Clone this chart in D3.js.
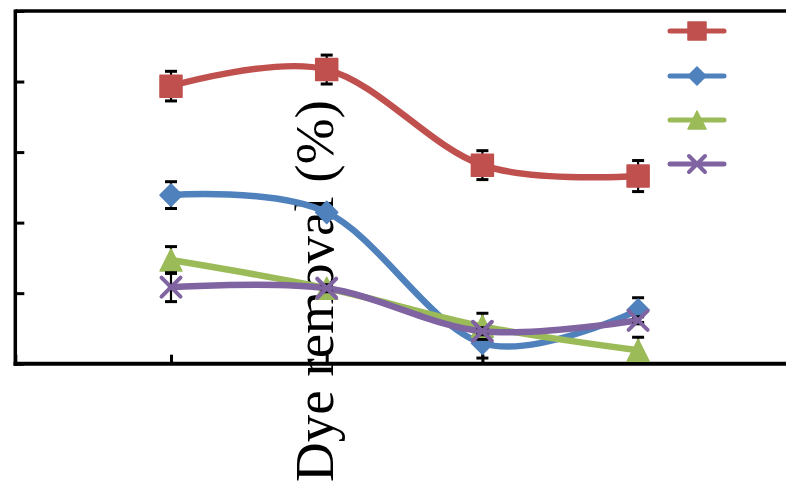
<!DOCTYPE html>
<html>
<head>
<meta charset="utf-8">
<script src="https://cdn.jsdelivr.net/npm/d3@7/dist/d3.min.js"></script>
<style>
  html, body { margin: 0; padding: 0; background: #fff; }
  svg { display: block; }
</style>
</head>
<body>
<svg id="chart" width="786" height="482"></svg>
<script>
// Sampling points along the x axis
const xValues = [1, 2, 3, 4];
const xTicks = [0, 1, 2, 3, 4, 5];
const yTicks = [0, 20, 40, 60, 80, 100];

// Dye removal (%) per series, with error (+/-)
const squareValues   = [78.7, 83.4, 56.3, 53.2];
const squareErrors   = [4.2, 4.1, 4.1, 4.4];
const diamondValues  = [47.8, 42.9, 5.8, 15.2];
const diamondErrors  = [3.8, 1.0, 4.2, 3.5];
const triangleValues = [29.4, 21.4, 10.6, 3.8];
const triangleErrors = [3.8, 1.0, 3.7, 3.7];
const crossValues    = [21.7, 21.4, 9.2, 12.3];
const crossErrors    = [4.1, 1.0, 1.0, 1.0];

const axisTitle = "Dye removal (%)";

const series = [
  { marker: "square",   color: "#C0504D", values: squareValues,   errors: squareErrors },
  { marker: "diamond",  color: "#4F81BD", values: diamondValues,  errors: diamondErrors },
  { marker: "triangle", color: "#9BBB59", values: triangleValues, errors: triangleErrors },
  { marker: "cross",    color: "#8064A2", values: crossValues,    errors: crossErrors }
];

const svg = d3.select("#chart");

const x = d3.scaleLinear().domain([0, 5]).range([15.3, 793.8]);
const y = d3.scaleLinear().domain([0, 100]).range([363.7, 11]);

// Rotated axis title, sitting behind the series
svg.append("text")
  .attr("transform", `translate(333,482) rotate(-90)`)
  .attr("text-anchor", "start")
  .attr("font-family", "'Liberation Serif', 'Times New Roman', serif")
  .attr("font-size", 55)
  .attr("fill", "#000")
  .text(axisTitle);

// Plot frame: top border
svg.append("line")
  .attr("x1", x(0)).attr("x2", x(5))
  .attr("y1", y(100)).attr("y2", y(100))
  .attr("stroke", "#000").attr("stroke-width", 3.5);

// Left axis with inward ticks
const yAxis = d3.axisLeft(y).tickValues(yTicks).tickSize(-9).tickFormat("");
const gy = svg.append("g").attr("transform", `translate(${x(0)},0)`).call(yAxis);
gy.select(".domain").attr("stroke", "#000").attr("stroke-width", 3.5)
  .attr("d", `M0,${y(0) + 2}V${y(100) - 1.5}`);
gy.selectAll(".tick line").attr("stroke", "#000").attr("stroke-width", 3);

// Bottom axis with inward ticks
const xAxis = d3.axisBottom(x).tickValues(xTicks).tickSize(-9).tickFormat("");
const gx = svg.append("g").attr("transform", `translate(0,${y(0)})`).call(xAxis);
gx.select(".domain").attr("stroke", "#000").attr("stroke-width", 4)
  .attr("d", `M${x(0) - 1.75},0H${x(5)}`);
gx.selectAll(".tick line").attr("stroke", "#000").attr("stroke-width", 3);

// Marker shapes
function markerPath(type, s) {
  const p = d3.path();
  const h = s / 2;
  if (type === "square") {
    p.rect(-h, -h, s, s);
  } else if (type === "diamond") {
    p.moveTo(0, -h); p.lineTo(h, 0); p.lineTo(0, h); p.lineTo(-h, 0); p.closePath();
  } else if (type === "triangle") {
    p.moveTo(0, -h); p.lineTo(h, h); p.lineTo(-h, h); p.closePath();
  } else {
    p.moveTo(-h, -h); p.lineTo(h, h); p.moveTo(h, -h); p.lineTo(-h, h);
  }
  return p.toString();
}

function drawMarker(g, type, color, cx, cy, s) {
  const m = g.append("path")
    .attr("transform", `translate(${cx},${cy})`)
    .attr("d", markerPath(type, s));
  if (type === "cross") {
    m.attr("fill", "none").attr("stroke", color).attr("stroke-width", 4).attr("stroke-linecap", "round");
  } else {
    m.attr("fill", color).attr("stroke", color).attr("stroke-width", 1.5).attr("stroke-linejoin", "round");
  }
}

const line = d3.line()
  .x(d => x(d.x))
  .y(d => y(d.y))
  .curve(d3.curveCardinal.tension(0));

const markerSize = { square: 22, diamond: 22, triangle: 22, cross: 19 };

series.forEach(s => {
  const pts = xValues.map((xv, i) => ({ x: xv, y: s.values[i], e: s.errors[i] }));
  const g = svg.append("g");

  g.append("path")
    .datum(pts)
    .attr("d", line)
    .attr("fill", "none")
    .attr("stroke", s.color)
    .attr("stroke-width", 6.5)
    .attr("stroke-linecap", "round");

  // Error bars
  const eb = g.append("g");
  pts.forEach(d => {
    const cx = x(d.x), top = y(d.y + d.e), bot = y(d.y - d.e);
    eb.append("line").attr("x1", cx).attr("x2", cx).attr("y1", top).attr("y2", bot)
      .attr("stroke", "#000").attr("stroke-width", 2.2);
    [top, bot].forEach(yy => {
      eb.append("line").attr("x1", cx - 6).attr("x2", cx + 6).attr("y1", yy).attr("y2", yy)
        .attr("stroke", "#000").attr("stroke-width", 3);
    });
  });

  pts.forEach(d => drawMarker(g, s.marker, s.color, x(d.x), y(d.y), markerSize[s.marker]));
});

// Legend
const legendY = [31, 76, 120, 164];
const legend = svg.append("g");
series.forEach((s, i) => {
  legend.append("line")
    .attr("x1", 670).attr("x2", 724)
    .attr("y1", legendY[i]).attr("y2", legendY[i])
    .attr("stroke", s.color).attr("stroke-width", 5).attr("stroke-linecap", "round");
  drawMarker(legend, s.marker, s.color, 697, legendY[i], s.marker === "cross" ? 16 : 18);
});
</script>
</body>
</html>
